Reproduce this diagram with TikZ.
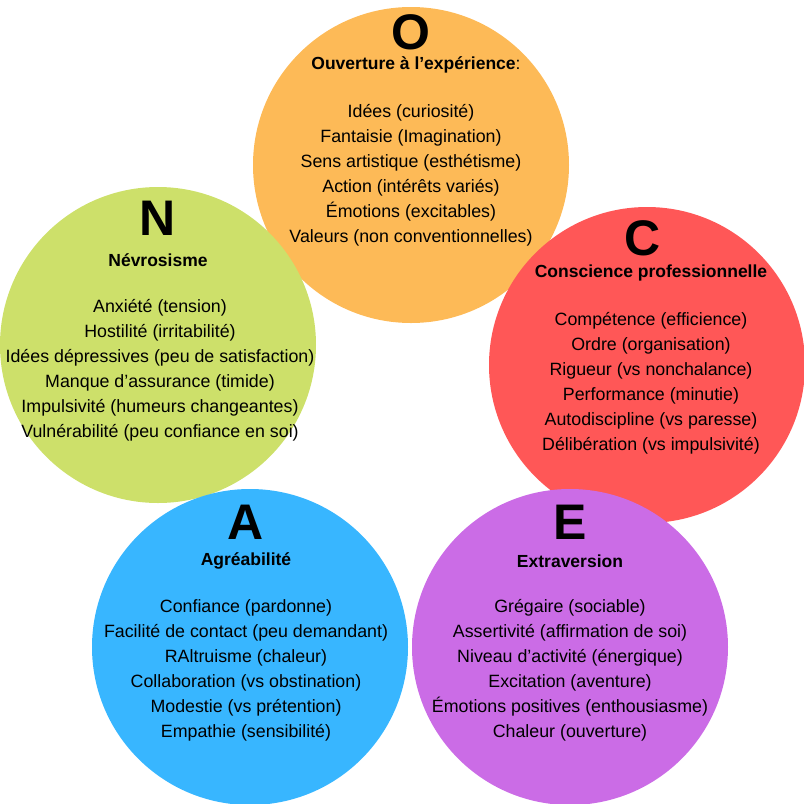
\documentclass[tikz,border=0pt]{standalone}
\usepackage{fontspec}
\setmainfont{Liberation Sans}
\newcommand{\aq}{{\char"27}}
\begin{document}
\begin{tikzpicture}[x=1pt,y=-1pt,
  circ/.style={circle,minimum size=316pt,inner sep=0pt,draw=none},
  letter/.style={font=\fontsize{50}{50}\selectfont\bfseries},
  ttl/.style={font=\fontsize{17.5}{18}\selectfont\bfseries,inner sep=1pt},
  body/.style={font=\fontsize{17.8}{25}\selectfont,align=center,anchor=north}]
\useasboundingbox (0,0) rectangle (804,804);
\definecolor{co}{HTML}{FDBA57}
\definecolor{cn}{HTML}{CDE06A}
\definecolor{cc}{HTML}{FF5757}
\definecolor{ca}{HTML}{38B6FF}
\definecolor{ce}{HTML}{CB6CE6}
\node[circ,fill=co] (O) at (411,165) {};
\node[circ,fill=cn] (N) at (158,345) {};
\node[circ,fill=cc] (C) at (647,365) {};
\node[circ,fill=ca] (A) at (250,647) {};
\node[circ,fill=ce] (E) at (570,647) {};
% O
\node[letter] (Ol) at (411,32) {O};
\node[ttl] (Ot) at (416,65) {Ouverture à l\aq expérience{\mdseries:}};
\node[body] (Ob) at (411,101) {Idées (curiosité)\\Fantaisie (Imagination)\\Sens artistique (esthétisme)\\Action (intérêts variés)\\Émotions (excitables)\\Valeurs (non conventionnelles)};
% N
\node[letter] (Nl) at (158,218) {N};
\node[ttl] (Nt) at (158,260) {Névrosisme};
\node[body] (Nb) at (160,296) {Anxiété (tension)\\Hostilité (irritabilité)\\Idées dépressives (peu de satisfaction)\\Manque d\aq assurance (timide)\\Impulsivité (humeurs changeantes)\\Vulnérabilité (peu confiance en soi)};
% C
\node[letter] (Cl) at (643,238) {C};
\node[ttl] (Ct) at (651,273) {Conscience professionnelle};
\node[body] (Cb) at (651,309) {Compétence (efficience)\\Ordre (organisation)\\Rigueur (vs nonchalance)\\Performance (minutie)\\Autodiscipline (vs paresse)\\Délibération (vs impulsivité)};
% A
\node[letter] (Al) at (246,522) {A};
\node[ttl] (At) at (246,561) {Agréabilité};
\node[body] (Ab) at (246,596) {Confiance (pardonne)\\Facilité de contact (peu demandant)\\RAltruisme (chaleur)\\Collaboration (vs obstination)\\Modestie (vs prétention)\\Empathie (sensibilité)};
% E
\node[letter] (El) at (570,522) {E};
\node[ttl] (Et) at (570,561) {Extraversion};
\node[body] (Eb) at (570,596) {Grégaire (sociable)\\Assertivité (affirmation de soi)\\Niveau d\aq activité (énergique)\\Excitation (aventure)\\Émotions positives (enthousiasme)\\Chaleur (ouverture)};
\end{tikzpicture}
\end{document}
